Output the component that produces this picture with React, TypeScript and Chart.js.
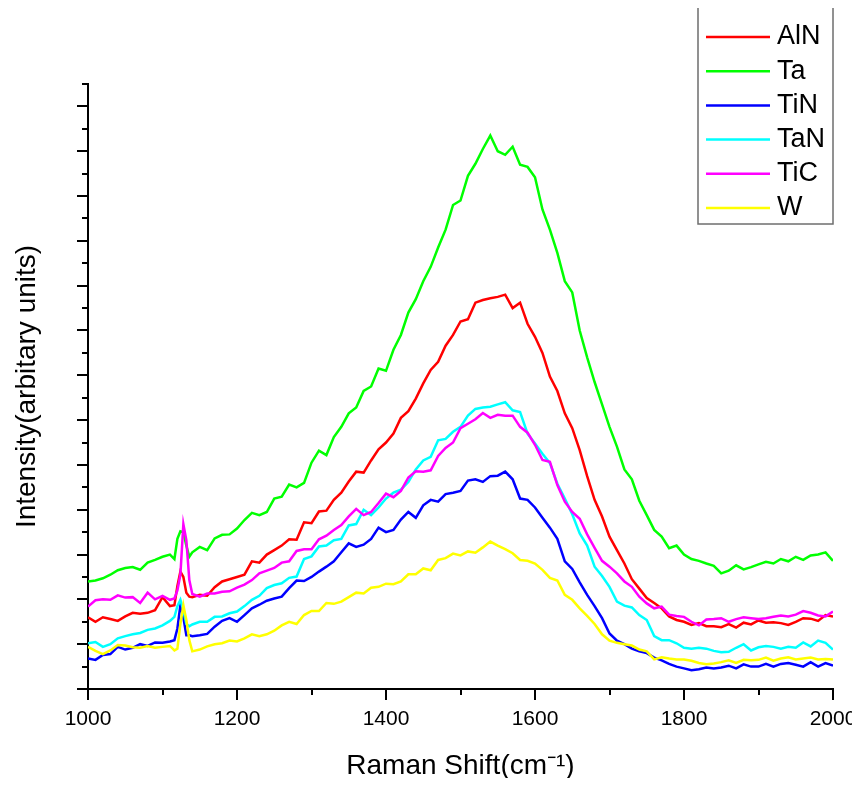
import React, { useEffect, useRef } from "react";
import { Chart, registerables } from "chart.js";

Chart.register(...registerables);

const FONT = "'Liberation Sans', Arial, sans-serif";

const ramanShift = [
  1000, 1010, 1020, 1030, 1040, 1050, 1060, 1070, 1080, 1090,
  1100, 1110, 1116, 1120, 1124, 1128, 1132, 1136, 1140, 1150,
  1160, 1170, 1180, 1190, 1200, 1210, 1220, 1230, 1240, 1250,
  1260, 1270, 1280, 1290, 1300, 1310, 1320, 1330, 1340, 1350,
  1360, 1370, 1380, 1390, 1400, 1410, 1420, 1430, 1440, 1450,
  1460, 1470, 1480, 1490, 1500, 1510, 1520, 1530, 1540, 1550,
  1560, 1570, 1580, 1590, 1600, 1610, 1620, 1630, 1640, 1650,
  1660, 1670, 1680, 1690, 1700, 1710, 1720, 1730, 1740, 1750,
  1760, 1770, 1780, 1790, 1800, 1810, 1820, 1830, 1840, 1850,
  1860, 1870, 1880, 1890, 1900, 1910, 1920, 1930, 1940, 1950,
  1960, 1970, 1980, 1990, 2000,
];

const alnValues = [
  1.60, 1.50, 1.60, 1.56, 1.52, 1.62, 1.70, 1.68, 1.70, 1.76,
  2.05, 1.85, 1.87, 2.30, 2.62, 2.50, 2.15, 2.06, 2.05, 2.10,
  2.08, 2.27, 2.40, 2.45, 2.50, 2.55, 2.85, 2.82, 3.00, 3.10,
  3.20, 3.34, 3.33, 3.72, 3.70, 3.96, 3.98, 4.22, 4.38, 4.63,
  4.85, 4.83, 5.10, 5.35, 5.50, 5.70, 6.05, 6.20, 6.48, 6.82,
  7.12, 7.30, 7.66, 7.90, 8.20, 8.25, 8.62, 8.68, 8.72, 8.75,
  8.80, 8.50, 8.62, 8.15, 7.86, 7.50, 6.97, 6.65, 6.15, 5.82,
  5.33, 4.75, 4.22, 3.85, 3.40, 3.10, 2.80, 2.45, 2.24, 2.03,
  1.92, 1.80, 1.62, 1.54, 1.50, 1.43, 1.47, 1.40, 1.40, 1.38,
  1.45, 1.37, 1.48, 1.44, 1.53, 1.48, 1.49, 1.47, 1.43, 1.50,
  1.58, 1.57, 1.52, 1.65, 1.62,
];

const taValues = [
  2.40, 2.42, 2.47, 2.55, 2.65, 2.70, 2.72, 2.66, 2.82, 2.88,
  2.95, 3.00, 2.90, 3.35, 3.52, 3.50, 3.20, 2.95, 3.05, 3.17,
  3.10, 3.36, 3.44, 3.45, 3.58, 3.77, 3.93, 3.88, 3.95, 4.25,
  4.29, 4.56, 4.50, 4.60, 5.05, 5.32, 5.22, 5.62, 5.85, 6.15,
  6.28, 6.65, 6.75, 7.15, 7.10, 7.57, 7.90, 8.40, 8.70, 9.10,
  9.42, 9.85, 10.25, 10.80, 10.90, 11.45, 11.72, 12.05, 12.35, 12.00,
  11.92, 12.10, 11.70, 11.65, 11.42, 10.70, 10.25, 9.73, 9.10, 8.85,
  8.00, 7.40, 6.85, 6.35, 5.85, 5.41, 4.90, 4.68, 4.20, 3.88,
  3.55, 3.40, 3.14, 3.20, 3.00, 2.90, 2.86, 2.80, 2.75, 2.58,
  2.64, 2.76, 2.67, 2.72, 2.78, 2.84, 2.80, 2.90, 2.85, 2.95,
  2.88, 2.98, 3.00, 3.05, 2.86,
];

const tinValues = [
  0.68, 0.65, 0.76, 0.78, 0.94, 0.88, 0.92, 1.00, 0.96, 1.04,
  1.03, 1.06, 1.09, 1.35, 1.87, 1.60, 1.20, 1.20, 1.18, 1.20,
  1.23, 1.39, 1.52, 1.58, 1.50, 1.65, 1.80, 1.88, 1.97, 2.02,
  2.06, 2.25, 2.42, 2.41, 2.50, 2.62, 2.73, 2.85, 3.05, 3.25,
  3.17, 3.22, 3.35, 3.60, 3.50, 3.55, 3.78, 3.95, 3.82, 4.10,
  4.22, 4.18, 4.35, 4.38, 4.42, 4.65, 4.68, 4.62, 4.75, 4.76,
  4.85, 4.68, 4.25, 4.22, 4.05, 3.82, 3.60, 3.35, 2.85, 2.68,
  2.38, 2.10, 1.85, 1.58, 1.24, 1.08, 1.00, 0.90, 0.84, 0.80,
  0.70, 0.64, 0.56, 0.50, 0.46, 0.42, 0.44, 0.48, 0.46, 0.48,
  0.52, 0.46, 0.55, 0.50, 0.50, 0.56, 0.50, 0.56, 0.58, 0.54,
  0.50, 0.60, 0.50, 0.58, 0.52,
];

const tanValues = [
  1.02, 1.05, 0.94, 1.00, 1.13, 1.18, 1.22, 1.25, 1.32, 1.35,
  1.42, 1.52, 1.61, 1.85, 1.99, 1.76, 1.45, 1.40, 1.44, 1.50,
  1.50, 1.61, 1.62, 1.69, 1.73, 1.85, 1.99, 2.08, 2.25, 2.32,
  2.36, 2.48, 2.51, 2.90, 2.96, 3.18, 3.20, 3.32, 3.35, 3.65,
  3.68, 4.00, 3.88, 4.05, 4.25, 4.38, 4.45, 4.62, 4.90, 5.10,
  5.18, 5.55, 5.58, 5.74, 5.85, 6.10, 6.25, 6.28, 6.30, 6.35,
  6.40, 6.22, 6.18, 5.70, 5.48, 5.25, 5.04, 4.58, 4.25, 3.90,
  3.47, 3.20, 2.73, 2.52, 2.28, 1.95, 1.86, 1.82, 1.65, 1.54,
  1.18, 1.09, 1.09, 1.02, 0.92, 0.90, 0.92, 0.90, 0.85, 0.82,
  0.83, 0.92, 1.00, 0.86, 0.93, 0.96, 0.94, 0.90, 0.94, 0.92,
  1.04, 0.95, 1.08, 1.03, 0.88,
];

const ticValues = [
  1.84, 1.98, 2.00, 1.99, 2.09, 2.04, 2.05, 1.92, 2.15, 2.00,
  2.08, 1.99, 2.02, 2.20, 2.55, 3.68, 3.32, 2.43, 2.12, 2.06,
  2.13, 2.13, 2.17, 2.18, 2.26, 2.33, 2.43, 2.58, 2.64, 2.70,
  2.82, 2.85, 3.08, 3.12, 3.12, 3.34, 3.42, 3.55, 3.66, 3.85,
  4.02, 3.88, 3.95, 4.15, 4.36, 4.28, 4.42, 4.72, 4.86, 4.85,
  4.88, 5.20, 5.38, 5.50, 5.82, 5.92, 6.02, 6.16, 6.05, 6.12,
  6.10, 6.10, 5.85, 5.72, 5.45, 5.11, 5.07, 4.55, 4.18, 3.95,
  3.80, 3.45, 3.15, 2.86, 2.73, 2.58, 2.40, 2.28, 2.06, 1.91,
  1.80, 1.84, 1.66, 1.63, 1.61, 1.50, 1.42, 1.55, 1.56, 1.58,
  1.50, 1.56, 1.60, 1.58, 1.56, 1.58, 1.61, 1.64, 1.62, 1.66,
  1.74, 1.70, 1.64, 1.62, 1.73,
];

const wValues = [
  0.94, 0.85, 0.78, 0.86, 0.98, 0.97, 0.93, 0.92, 0.96, 0.92,
  0.94, 0.96, 0.86, 0.90, 1.45, 1.87, 1.54, 1.09, 0.84, 0.88,
  0.95, 1.00, 1.02, 1.08, 1.06, 1.13, 1.22, 1.18, 1.22, 1.30,
  1.42, 1.50, 1.45, 1.65, 1.74, 1.74, 1.92, 1.90, 1.95, 2.05,
  2.15, 2.13, 2.26, 2.28, 2.35, 2.34, 2.40, 2.56, 2.56, 2.69,
  2.65, 2.88, 2.92, 3.02, 2.98, 3.07, 3.04, 3.16, 3.29, 3.20,
  3.12, 3.03, 2.88, 2.86, 2.80, 2.66, 2.48, 2.42, 2.10, 1.99,
  1.80, 1.63, 1.45, 1.22, 1.08, 1.03, 1.00, 0.97, 0.88, 0.84,
  0.66, 0.71, 0.68, 0.66, 0.66, 0.63, 0.58, 0.55, 0.57, 0.60,
  0.64, 0.58, 0.65, 0.64, 0.65, 0.70, 0.63, 0.68, 0.71, 0.66,
  0.68, 0.70, 0.66, 0.67, 0.66,
];

const seriesLabels = ["AlN", "Ta", "TiN", "TaN", "TiC", "W"];
const seriesColors = ["#ff0000", "#00ff00", "#0000ff", "#00ffff", "#ff00ff", "#ffff00"];
const seriesValues = [alnValues, taValues, tinValues, tanValues, ticValues, wValues];

const xLabeledTicks = [1000, 1200, 1400, 1600, 1800, 2000];
const xTitle = "Raman Shift(cm\u207B\u00B9)";
const yTitle = "Intensity(arbitary units)";

const tickAndLegendPlugin = {
  id: "tickAndLegend",
  afterDraw(chart: any) {
    const ctx = chart.ctx;
    const xs = chart.scales.x;
    const ys = chart.scales.y;
    const area = chart.chartArea;
    ctx.save();
    ctx.strokeStyle = "#000";
    ctx.lineWidth = 2;
    ys.ticks.forEach((t: any) => {
      const p = Math.round(ys.getPixelForValue(t.value));
      const major = Math.abs(t.value - Math.round(t.value)) < 1e-6;
      const len = major ? 11 : 6;
      ctx.beginPath();
      ctx.moveTo(area.left, p);
      ctx.lineTo(area.left - len, p);
      ctx.stroke();
    });
    xs.ticks.forEach((t: any) => {
      const p = Math.round(xs.getPixelForValue(t.value));
      const len = xLabeledTicks.includes(t.value) ? 11 : 6;
      ctx.beginPath();
      ctx.moveTo(p, area.bottom);
      ctx.lineTo(p, area.bottom + len);
      ctx.stroke();
    });

    // legend box inside the plot, top right
    const boxRight = area.right;
    const boxLeft = boxRight - 135;
    const boxTop = 5;
    const boxBottom = 224;
    ctx.fillStyle = "#ffffff";
    ctx.fillRect(boxLeft, boxTop, boxRight - boxLeft, boxBottom - boxTop);
    ctx.strokeStyle = "#6e6e6e";
    ctx.lineWidth = 1.5;
    ctx.strokeRect(boxLeft, boxTop, boxRight - boxLeft, boxBottom - boxTop);
    ctx.font = "27px " + FONT;
    ctx.textBaseline = "middle";
    ctx.textAlign = "left";
    chart.data.datasets.forEach((ds: any, i: number) => {
      const y = 37 + i * 34.2;
      ctx.strokeStyle = ds.borderColor;
      ctx.lineWidth = 2.5;
      ctx.beginPath();
      ctx.moveTo(boxLeft + 8, y);
      ctx.lineTo(boxLeft + 72, y);
      ctx.stroke();
      ctx.fillStyle = "#000";
      ctx.fillText(ds.label, boxLeft + 79, y);
    });
    ctx.restore();
  },
};

export default function App() {
  const canvasRef = useRef<HTMLCanvasElement | null>(null);

  useEffect(() => {
    if (!canvasRef.current) return;
    const datasets = seriesLabels.map((label, i) => ({
      label,
      data: ramanShift.map((x, j) => ({ x, y: seriesValues[i][j] })),
      borderColor: seriesColors[i],
      backgroundColor: seriesColors[i],
      borderWidth: 2.5,
      pointRadius: 0,
      tension: 0,
      fill: false,
      order: seriesLabels.length - i,
    }));

    const chart = new Chart(canvasRef.current, {
      type: "line",
      data: { datasets },
      options: {
        animation: false,
        responsive: false,
        devicePixelRatio: 1,
        layout: { padding: { top: 84, right: 27, bottom: 0, left: 0 } },
        plugins: {
          legend: { display: false },
          tooltip: { enabled: false },
        },
        scales: {
          x: {
            type: "linear",
            min: 1000,
            max: 2000,
            afterFit: (s: any) => {
              s.height = 97;
            },
            grid: {
              display: true,
              drawOnChartArea: false,
              drawTicks: true,
              tickLength: 17,
              color: "rgba(0,0,0,0)",
              tickColor: "rgba(0,0,0,0)",
            },
            border: { display: true, color: "#000", width: 2 },
            ticks: {
              stepSize: 100,
              autoSkip: false,
              maxRotation: 0,
              padding: 1,
              color: "#000",
              font: { size: 21, family: FONT },
              callback: (v: any) => (xLabeledTicks.includes(v) ? String(v) : ""),
            },
            title: {
              display: true,
              text: xTitle,
              color: "#000",
              font: { size: 28, family: FONT },
              padding: { top: 0, bottom: 3 },
            },
          },
          y: {
            type: "linear",
            min: 0,
            max: 13.5,
            afterFit: (s: any) => {
              s.width = 88;
            },
            grid: { display: false, drawTicks: false },
            border: { display: true, color: "#000", width: 2 },
            ticks: { stepSize: 0.5, display: false },
            title: {
              display: true,
              text: yTitle,
              color: "#000",
              font: { size: 28, family: FONT },
              padding: { top: 10, bottom: 0 },
            },
          },
        },
      },
      plugins: [tickAndLegendPlugin],
    });
    return () => chart.destroy();
  }, []);

  return (
    <div style={{ margin: -8, width: 860, height: 786, background: "#fff" }}>
      <canvas ref={canvasRef} width={860} height={786} style={{ display: "block" }} />
    </div>
  );
}
